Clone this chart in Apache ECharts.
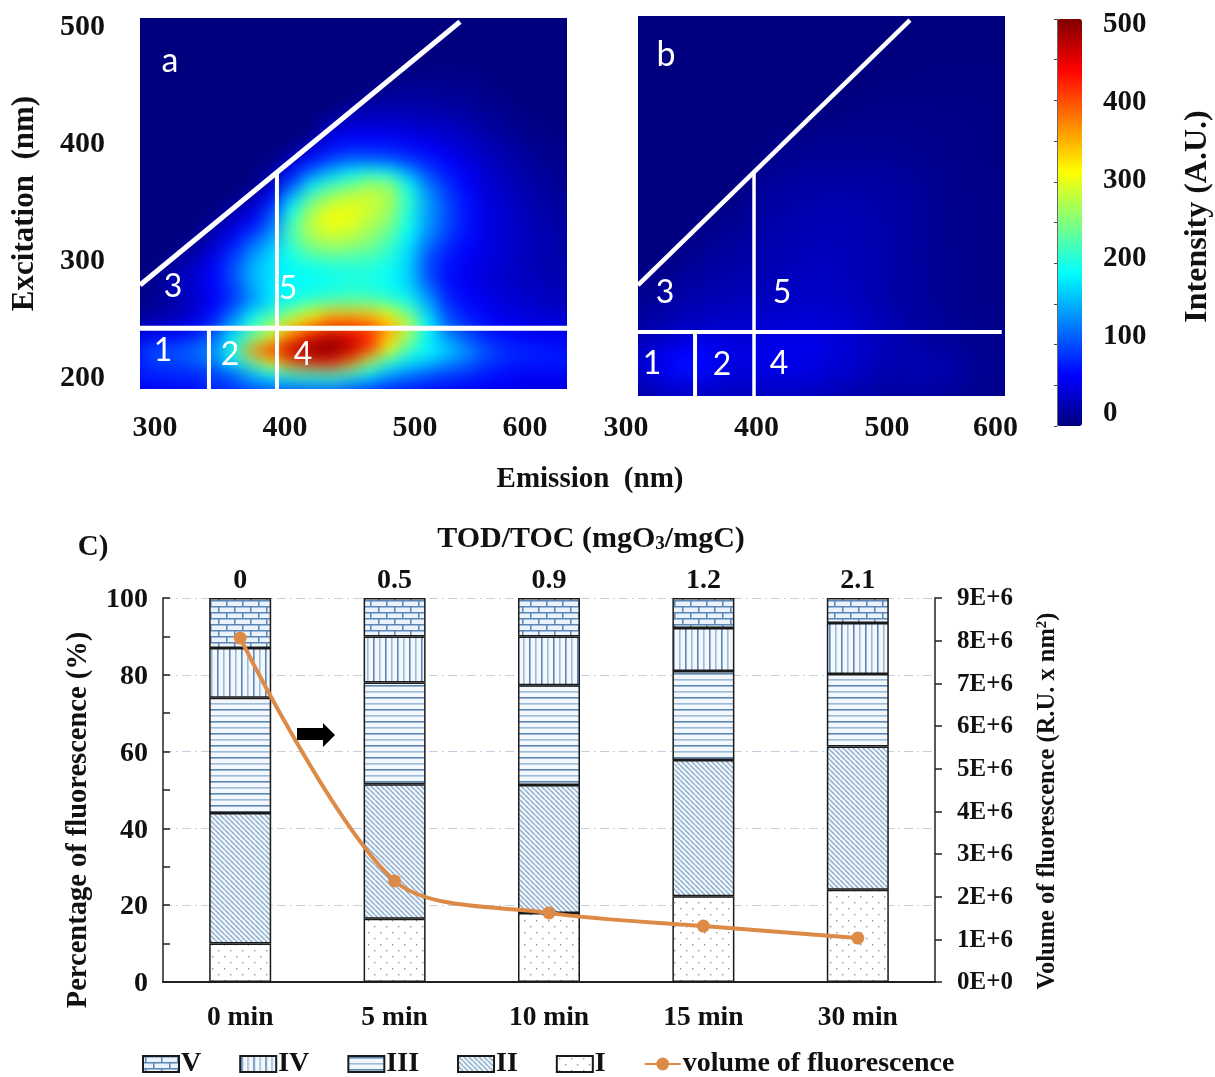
<!DOCTYPE html>
<html><head><meta charset="utf-8">
<script src="https://cdn.jsdelivr.net/npm/echarts@6/dist/echarts.min.js"></script>
<style>
html,body{margin:0;padding:0;background:#fff;width:1215px;height:1077px;overflow:hidden}
#heatClip{position:absolute;left:0;top:0;width:1215px;height:1077px;background:#00007f;
 clip-path:path('M140 18H567V389H140Z M638 16H1005V396H638Z')}
#heat{position:absolute;left:0;top:0;width:1215px;height:1077px;filter:blur(8px)}
#main{position:absolute;left:0;top:0;width:1215px;height:1077px}
</style></head><body>
<div id="heatClip"><div id="heat"></div></div>
<div id="main"></div>
<script>
const FONT='"Liberation Serif","Times New Roman",serif';
const jet=['#00007f','#0000ff','#007fff','#00ffff','#7fff7f','#ffff00','#ff7f00','#ff0000','#7f0000'];

// ---------- EEM panel a ----------
const emA=[285,300,315,330,345,360,375,390,405,420,435,450,465,480,495,510,525,540,555,570,585,600,615,630];
const exA=[510,500,490,480,470,460,450,440,430,420,410,400,390,380,370,360,350,340,330,320,310,300,290,280,270,260,250,240,230,220,210,200,190,180];
const heatA=[
[0,0,0,0,0,0,0,0,0,0,0,0,0,0,0,0,0,0,0,0,0,0,0,0],
[0,0,0,0,0,0,0,0,0,0,0,0,0,0,0,0,0,0,0,0,0,0,0,0],
[0,0,0,0,0,0,0,0,0,0,0,0,0,0,0,0,0,0,0,0,0,0,0,0],
[0,0,0,0,0,0,0,0,0,0,0,0,0,0,0,0,0,0,0,0,0,0,0,0],
[0,0,0,0,0,0,0,0,0,0,0,0,0,0,0,0,0,0,0,0,0,0,0,0],
[0,0,0,0,0,0,0,0,0,0,0,0,0,0,0,0,3,2,0,0,0,0,0,0],
[0,0,0,0,0,0,0,0,0,0,0,0,0,0,6,7,6,5,3,0,0,0,0,0],
[0,0,0,0,0,0,0,0,0,0,0,0,0,10,12,11,10,8,5,2,0,0,0,0],
[0,0,0,0,0,0,0,0,0,0,0,0,15,18,18,16,15,12,8,4,0,0,0,0],
[0,0,0,0,0,0,0,0,0,0,0,25,28,28,26,24,22,18,12,7,3,0,0,0],
[0,0,0,0,0,0,0,0,0,0,30,40,42,40,38,34,30,24,16,10,5,3,0,0],
[0,0,0,0,0,0,0,0,0,0,50,60,60,58,52,45,40,32,22,15,8,5,2,2],
[0,0,0,0,0,0,0,0,0,50,70,80,80,78,70,60,50,40,28,20,12,8,4,4],
[0,0,0,0,0,0,0,0,40,70,95,110,110,105,90,75,60,48,33,25,15,10,5,5],
[0,0,0,0,0,0,0,20,70,115,155,185,200,190,140,100,72,55,38,28,20,12,8,8],
[0,0,0,0,0,0,0,35,100,175,215,235,265,260,190,120,85,62,42,32,22,15,10,10],
[0,0,0,0,0,0,25,60,150,225,265,285,285,270,210,140,95,68,45,35,25,18,12,12],
[0,0,0,0,0,15,40,90,190,260,295,300,290,270,205,140,100,70,48,38,28,20,15,15],
[0,0,0,0,8,35,60,110,215,280,310,305,280,255,200,140,100,72,50,40,30,22,15,15],
[0,0,0,0,25,50,85,130,225,275,295,285,265,240,190,135,95,70,50,40,30,25,18,18],
[0,0,0,10,35,70,115,155,215,255,270,265,250,220,175,120,85,65,50,40,30,25,20,20],
[0,0,5,25,50,90,135,170,200,225,235,230,225,205,170,105,75,60,48,40,30,25,20,20],
[0,0,20,35,60,100,150,175,190,195,200,205,205,195,165,100,70,55,45,38,30,25,22,22],
[0,8,25,40,65,100,150,175,185,190,195,200,200,190,165,105,70,55,45,38,32,28,25,25],
[5,10,25,40,60,90,140,180,190,195,200,205,205,195,175,125,75,60,50,40,35,30,28,28],
[5,10,20,35,60,90,135,175,200,220,235,240,240,225,200,145,85,65,55,45,40,35,30,30],
[10,15,25,40,70,120,185,225,265,310,345,350,340,310,250,170,100,75,60,50,45,40,40,40],
[30,40,45,60,90,150,220,270,330,380,410,410,400,360,280,190,115,90,70,60,55,50,50,50],
[50,70,70,85,115,180,240,300,400,450,480,460,420,340,260,180,135,105,80,70,65,60,60,60],
[75,105,105,115,135,210,370,430,470,505,510,470,400,300,215,190,170,135,105,85,80,75,70,70],
[70,90,95,105,125,180,240,310,390,420,430,380,270,205,175,160,130,115,90,80,75,75,75,70],
[75,80,80,80,90,105,150,185,220,225,230,215,180,145,125,105,95,85,75,65,60,60,60,60],
[60,65,70,75,90,100,120,130,135,140,140,125,110,95,85,78,72,68,62,60,55,55,55,55],
[40,45,45,50,60,70,75,80,80,85,85,80,75,65,60,55,50,45,45,45,40,40,40,40]
];
// ---------- EEM panel b ----------
const emB=[300,315,330,345,360,375,390,405,420,435,450,465,480,495,510,525,540,555,570,585,600];
const exB=[505,490,475,460,445,430,415,400,385,370,355,340,325,310,295,280,265,250,235,220,205,190,175];
const heatB=[
[0,0,0,0,0,0,0,0,0,0,0,0,0,0,0,0,0,0,0,0,0],
[0,0,0,0,0,0,0,0,0,0,0,0,0,0,0,0,0,0,0,0,0],
[0,0,0,0,0,0,0,0,0,0,0,0,0,0,0,0,0,0,0,0,0],
[0,0,0,0,0,0,0,0,0,0,0,0,0,0,0,2,2,2,2,2,2],
[0,0,0,0,0,0,0,0,0,0,0,0,0,3,3,3,3,3,3,3,3],
[0,0,0,0,0,0,0,0,0,0,0,0,4,4,4,4,4,4,4,3,3],
[0,0,0,0,0,0,0,0,0,0,5,6,6,6,6,6,5,4,4,3,3],
[0,0,0,0,0,0,0,0,7,8,9,9,9,8,8,7,6,5,4,3,3],
[0,0,0,0,0,0,0,4,9,11,12,12,12,11,10,8,7,5,4,3,3],
[0,0,0,0,0,0,0,10,13,15,17,17,17,16,14,11,8,6,5,4,3],
[0,0,0,0,0,0,6,14,17,19,21,21,20,18,16,13,9,7,5,4,3],
[0,0,0,0,0,5,9,17,20,23,25,25,24,21,18,14,10,7,6,5,4],
[0,0,0,0,6,10,13,20,23,26,28,27,26,22,18,14,10,7,6,5,4],
[0,0,0,6,10,14,17,22,25,28,30,29,27,23,18,14,10,7,6,5,4],
[0,0,5,10,14,18,20,24,27,30,31,30,27,23,18,14,10,8,6,5,4],
[0,5,9,15,18,22,24,27,30,32,33,31,28,23,18,14,11,8,6,5,4],
[8,10,16,22,25,28,30,32,34,35,35,33,29,24,18,14,11,8,6,5,4],
[12,16,22,28,32,33,35,37,40,42,40,37,32,27,21,16,12,9,7,5,4],
[18,24,30,38,42,42,42,46,48,50,47,42,36,30,24,18,14,10,8,6,5],
[25,40,52,62,64,52,48,52,55,55,50,44,38,30,26,22,18,14,10,8,6],
[25,44,58,70,66,50,46,50,52,50,45,40,34,26,22,26,24,18,12,8,6],
[18,30,40,44,42,38,36,38,38,38,35,30,26,20,18,20,18,14,10,7,5],
[12,20,26,30,30,28,26,28,28,28,25,22,18,15,14,14,12,10,8,6,4]
];
// ---------- region boundaries (Em, Ex) ----------
const diagA=[[288.5,276.9],[534.6,501.9]];
const vertA=[[393.8,373.5],[393.8,188]];
const horzA=[[288.5,239.9],[616.9,239.9]];
const vert2A=[[341.5,239.9],[341.5,188]];
const diagB=[[309.2,276.9],[517.6,503.4]];
const vertB=[[398.1,372.6],[398.1,182.05]];
const horzB=[[309.2,236.8],[587.9,236.8]];
const vert2B=[[352.9,236.8],[352.9,182.05]];
// ---------- panel C ----------
const times=['0 min','5 min','10 min','15 min','30 min'];
const tod=['0','0.5','0.9','1.2','2.1'];
const regionI=[10,16.5,18,22.3,24];
const regionII=[34,35,33.3,35.5,37.3];
const regionIII=[30,26.5,26,23.2,18.9];
const regionIV=[13,12,12.7,11.2,13.3];
const regionV=[13,10,10,7.8,6.5];
const volume=[8.06e6,2.37e6,1.62e6,1.31e6,1.03e6];
const intensityTicks=[0,500];

function tile(w,h,draw){const c=document.createElement('canvas');c.width=w;c.height=h;const g=c.getContext('2d');
 g.fillStyle='#fff';g.fillRect(0,0,w,h);draw(g);return {image:c,repeat:'repeat'};}
const BL='#5b86b5',BL2='#9dbbd8';
const patV=tile(16,12,g=>{g.fillStyle='#eaf2fa';g.fillRect(0,0,16,12);g.fillStyle=BL;g.fillRect(0,0,16,1.5);g.fillRect(0,6,16,1.5);g.fillRect(2,0,1.5,6);g.fillRect(10,6,1.5,6);});
const patIV=tile(12,6,g=>{g.fillStyle='#f2f7fc';g.fillRect(0,0,12,6);g.fillStyle=BL;g.fillRect(1,0,1.6,6);g.fillStyle=BL2;g.fillRect(7,0,1.6,6);});
const patIII=tile(6,12,g=>{g.fillStyle='#f2f7fc';g.fillRect(0,0,6,12);g.fillStyle=BL;g.fillRect(0,1,6,1.6);g.fillStyle=BL2;g.fillRect(0,7,6,1.6);});
const patII=tile(5,5,g=>{g.fillStyle='#f3f7fb';g.fillRect(0,0,5,5);g.strokeStyle='#8cadcd';g.lineWidth=1.5;
 for(let k=-5;k<=10;k+=5){g.beginPath();g.moveTo(k,0);g.lineTo(k+5,5);g.stroke();}});
const patI=tile(12,12,g=>{g.fillStyle='#8898a8';g.fillRect(2,2,1.4,1.4);g.fillRect(8,8,1.4,1.4);});

const heatData=(rows)=>rows.flatMap((r,j)=>r.map((v,i)=>[i,rows.length-1-j,v]));
const hc=echarts.init(document.getElementById('heat'),null,{renderer:'canvas'});
hc.setOption({animation:false,backgroundColor:'transparent',
 grid:[{left:125.75,top:0.6,width:468,height:403.65},{left:616.2,top:9.4,width:411.1,height:403.6}],
 xAxis:[{type:'category',gridIndex:0,show:false,data:emA},{type:'category',gridIndex:1,show:false,data:emB}],
 yAxis:[{type:'category',gridIndex:0,show:false,data:exA.slice().reverse()},{type:'category',gridIndex:1,show:false,data:exB.slice().reverse()}],
 visualMap:{show:false,min:0,max:500,inRange:{color:jet},seriesIndex:[0,1]},
 series:[
  {type:'heatmap',xAxisIndex:0,yAxisIndex:0,data:heatData(heatA),silent:true,progressive:0},
  {type:'heatmap',xAxisIndex:1,yAxisIndex:1,data:heatData(heatB),silent:true,progressive:0}
 ]});

const tickFont={fontFamily:FONT,fontWeight:'bold',color:'#111'};
const lowered=(fs,pad)=>({a:{fontSize:fs,fontFamily:FONT,fontWeight:'bold',color:'#111',padding:[pad,0,0,0]}});
const wl=(name,data,x,y,w)=>({type:'line',name,data,xAxisIndex:x,yAxisIndex:y,symbol:'none',silent:true,
 lineStyle:{color:'#fff',width:w,cap:'butt'},z:6,clip:false,animation:false});
const bar=(name,data,pat)=>({type:'bar',name,data,stack:'pct',xAxisIndex:2,yAxisIndex:2,barWidth:62,
 itemStyle:{color:pat,borderColor:'#1a1a1a',borderWidth:1.5},silent:true});
const wt=(t,x,y,fs)=>({type:'text',x,y,z:20,style:{text:t,fill:'#fff',font:`${fs||32}px Lato, "Open Sans", sans-serif`,textAlign:'center',textVerticalAlign:'middle'}});
const bt=(t,x,y,fs)=>({type:'text',x,y,z:20,style:{text:t,fill:'#111',font:`bold ${fs}px ${FONT}`,textAlign:'center',textVerticalAlign:'middle'}});

const mc=echarts.init(document.getElementById('main'),null,{renderer:'canvas'});
mc.setOption({animation:false,backgroundColor:'transparent',
 textStyle:{fontFamily:FONT},
 grid:[
  {left:140,top:18,width:427,height:371},
  {left:626,top:16,width:391.5,height:380},
  {left:163,top:598,width:772,height:384},
  {left:1057,top:19,width:25,height:407},
  {left:1090,top:22,width:10,height:389}
 ],
 xAxis:[
  {type:'value',gridIndex:0,min:288.46,max:616.9,axisLine:{show:false},splitLine:{show:false},axisTick:{show:false},
   axisLabel:{customValues:[300,400,500,600],margin:24,fontSize:30,...tickFont,hideOverlap:false,
    formatter:v=>v===600?'{far|600}':String(v),rich:{far:{fontSize:30,fontFamily:FONT,fontWeight:'bold',color:'#111',padding:[0,40,0,0]}}}},
  {type:'value',gridIndex:1,min:300,max:600,axisLine:{show:false},splitLine:{show:false},axisTick:{show:false},
   axisLabel:{customValues:[300,400,500,600],margin:17,fontSize:30,...tickFont,hideOverlap:false,
    formatter:v=>v===600?'{far|600}':String(v),rich:{far:{fontSize:30,fontFamily:FONT,fontWeight:'bold',color:'#111',padding:[0,44,0,0]}}}},
  {type:'category',gridIndex:2,data:times,position:'bottom',axisLine:{lineStyle:{color:'#222',width:1.5}},
   axisTick:{length:8,lineStyle:{color:'#222',width:1.5},inside:false},axisLabel:{fontSize:27.5,margin:22,...tickFont,interval:0}},
  {type:'category',gridIndex:2,data:tod,position:'top',axisLine:{lineStyle:{color:'#111',width:1.5}},axisTick:{show:false},
   axisLabel:{fontSize:28,margin:3,...tickFont,interval:0},
   name:'TOD/TOC (mgO{s|3}/mgC)',nameLocation:'middle',nameGap:44,
   nameTextStyle:{fontSize:30,...tickFont,padding:[0,0,0,84],rich:{s:{fontSize:19,fontFamily:FONT,fontWeight:'bold',color:'#111',verticalAlign:'bottom',padding:[8,0,0,0]}}}},
  {type:'value',gridIndex:3,show:false,min:0,max:1},
  {type:'value',gridIndex:4,show:false,min:0,max:1}
 ],
 yAxis:[
  {type:'value',gridIndex:0,min:188.03,max:505.13,axisLine:{show:false},splitLine:{show:false},axisTick:{show:false},
   axisLabel:{customValues:[200,300,400,500],margin:35,fontSize:30,...tickFont,formatter:v=>`{a|${v}}`,rich:lowered(30,6)},
   name:'Excitation  (nm)',nameLocation:'middle',nameRotate:90,nameGap:100,nameTextStyle:{fontSize:31,...tickFont}},
  {type:'value',gridIndex:1,min:182.05,max:506.84,show:false},
  {type:'value',gridIndex:2,min:0,max:100,interval:20,position:'left',
   axisLine:{show:true,lineStyle:{color:'#222',width:1.5}},
   axisTick:{show:true,inside:true,length:7,lineStyle:{color:'#222',width:1.5}},
   minorTick:{show:true,splitNumber:2,length:7,lineStyle:{color:'#222',width:1.5}},
   splitLine:{show:true,lineStyle:{color:'#c3d0e0',width:1.2,type:[9,4,2,4]}},
   axisLabel:{fontSize:28,margin:15,...tickFont,formatter:v=>`{a|${v}}`,rich:lowered(28,4)},
   name:'Percentage of fluorescence (%)',nameLocation:'middle',nameRotate:90,nameGap:70,
   nameTextStyle:{fontSize:28.5,...tickFont,padding:[0,60,0,0]}},
  {type:'value',gridIndex:2,min:0,max:9e6,interval:1e6,position:'right',
   axisLine:{show:true,lineStyle:{color:'#222',width:1.5}},
   axisTick:{show:true,length:7,lineStyle:{color:'#222',width:1.5}},splitLine:{show:false},
   axisLabel:{fontSize:25,margin:22,...tickFont,formatter:v=>'{a|'+(v===0?'0E+0':(v/1e6)+'E+6')+'}',rich:lowered(25,2)},
   name:'Volume of fluorescence (R.U. x nm{p|2})',nameLocation:'middle',nameRotate:90,nameGap:100,
   nameTextStyle:{fontSize:24.5,...tickFont,padding:[0,22,0,0],rich:{p:{fontSize:15,fontFamily:FONT,fontWeight:'bold',color:'#111',verticalAlign:'top'}}}},
  {type:'value',gridIndex:3,min:0,max:500,interval:50,position:'right',z:10,
   axisLine:{show:true,lineStyle:{color:'#666',width:1}},axisTick:{show:true,inside:true,length:3,lineStyle:{color:'#444'}},
   axisLabel:{show:false},splitLine:{show:false}},
  {type:'value',gridIndex:4,min:intensityTicks[0],max:intensityTicks[1],interval:100,position:'right',
   axisLine:{show:false},axisTick:{show:false},splitLine:{show:false},
   axisLabel:{fontSize:29,margin:5,...tickFont,formatter:v=>`{a|${v}}`,rich:lowered(29,6)},
   name:'Intensity (A.U.)',nameLocation:'middle',nameRotate:90,nameGap:84,nameTextStyle:{fontSize:32,...tickFont}}
 ],
 visualMap:{type:'continuous',show:true,seriesIndex:[],min:0,max:500,inRange:{color:jet},calculable:false,
  showLabel:false,text:null,left:1057,top:19,padding:0,itemWidth:25,itemHeight:407,orient:'vertical'},
 legend:{left:142,top:1050,itemGap:38,itemWidth:36,itemHeight:16,selectedMode:false,padding:0,
  data:[{name:'V',icon:'rect'},{name:'IV',icon:'rect'},{name:'III',icon:'rect'},{name:'II',icon:'rect'},{name:'I',icon:'rect'},{name:'volume of fluorescence'}],
  textStyle:{fontSize:28,fontFamily:FONT,fontWeight:'bold',color:'#111',padding:[2,0,0,-3]}},
 graphic:[
  wt('a',170,61,34),wt('3',173,287),wt('5',288,289),wt('1',163,351),wt('2',230,355),wt('4',303,355),
  wt('b',666,55,34),wt('3',665,293),wt('5',782,293),wt('1',652,364),wt('2',722,365),wt('4',779,364),
  bt('Emission  (nm)',590,480,29),bt('C)',93,548,29),
  {type:'polygon',z:1,shape:{points:[[297,728],[323,728],[323,723],[335,735],[323,747],[323,740],[297,740]]},style:{fill:'#000'}}
 ],
 series:[
  wl('d1',diagA,0,0,5),wl('d2',vertA,0,0,4),wl('d3',horzA,0,0,5),wl('d4',vert2A,0,0,4),
  wl('d5',diagB,1,1,4.5),wl('d6',vertB,1,1,3.5),wl('d7',horzB,1,1,4),wl('d8',vert2B,1,1,4),
  bar('I',regionI,patI),bar('II',regionII,patII),bar('III',regionIII,patIII),bar('IV',regionIV,patIV),bar('V',regionV,patV),
  {type:'line',name:'volume of fluorescence',data:volume,xAxisIndex:2,yAxisIndex:3,smooth:0.3,z:8,symbol:'circle',symbolSize:13,
   lineStyle:{color:'#dc8a46',width:4},itemStyle:{color:'#dc8a46'},silent:true}
 ]});
</script>
</body></html>
